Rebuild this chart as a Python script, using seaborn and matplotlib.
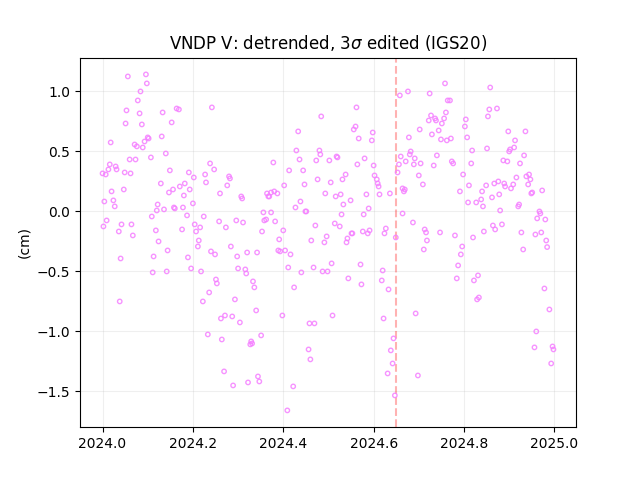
# vndp_v_residuals.py
# Detrended V component for VNDP, 3 sigma edited

import numpy as np
import pandas as pd
import matplotlib
matplotlib.use("Agg")
import matplotlib.pyplot as plt
import seaborn as sns

# fraction of 2024 for each epoch
year_frac = [
    .056, .096, .098, .084, .078, .053, .082, .051, .087, .133, .164, .169, .242, .153, .131, .100, .102, .093,
    .018, .071, .076, .089, .140, .107, .060, .073, .016, .029, .013, .031, .000, .007, .049, .062, .149, .191,
    .202, .238, .247, .227, .229, .280, .282, .276, .260, .307, .309, .129, .171, .182, .193, .156, .147, .180,
    .020, .047, .004, .024, .027, .122, .120, .136, .158, .160, .178, .200, .187, .224, .109, .009, .002, .042,
    .064, .036, .067, .118, .124, .176, .204, .216, .207, .213, .211, .258, .273, .296, .311, .284,
    .040, .113, .144, .189, .111, .142, .196, .218, .240, .249, .298, .320, .342, .300, .316, .318, .333, .336,
    .251, .253, .236, .222, .293, .038, .340, .271, .262, .287, .304, .233, .264, .329, .331, .327, .269, .289, .322,
    .562, .484, .433, .556, .560, .598, .567, .596, .429, .480, .482, .473, .436, .378, .518, .520, .502, .580,
    .564, .600, .653, .413, .444, .538, .531, .602, .607, .609, .611, .476, .505, .402, .447, .364, .367, .369,
    .373, .380, .387, .493, .516, .527, .584, .613, .636, .438, .427, .533, .549, .589, .449, .451, .356, .373,
    .529, .578, .358, .362, .382, .471, .514, .525, .400, .353, .627, .624, .551, .553, .576, .587, .591, .649,
    .391, .496, .542, .462, .491, .540,
    .389, .393, .404, .416, .411, .440, .467, .487, .498, .507, .571, .620, .618, .544, .573, .424, .633, .398,
    .509, .458, .469, .622, .351, .644, .456, .638, .460, .642, .631, .344, .347, .422, .647, .409,
    .658, .660, .656, .664,
    .676, .724, .758, .858, .764, .769, .856, .873, .760, .727, .736, .722, .738, .756, .751, .804, .802, .853,
    .702, .744, .729, .898, .936, .678, .749, .762, .771, .807, .913, .911, .902, .900, .851, .818, .682, .680,
    .691, .740, .933, .887, .896, .773, .776, .816, .924, .671, .689, .704, .733, .798, .700, .916, .938, .944,
    .947, .709, .811, .849, .867, .876, .889, .891, .909, .904, .942, .791, .840, .973, .664, .669, .667, .878,
    .862, .838, .827, .809, .842, .920, .922, .949, .951, .880, .967, .969, .962, .980, .687, .864, .869, .884,
    .844, .713, .716, .747, .780, .820, .927, .958, .971, .718, .982, .796, .984,
    .711, .793, .931, .787, .831, .784, .822, .978, .833, .829, .693, .989, .960, .956, .996, .998, .993, .698,
]

# V residual in cm, same order
v_cm = [
    1.125, 1.142, 1.067, 1.000, .925, .842, .817, .733, .725, .825, .858, .850, .867, .742, .625, .617, .608, .583,
    .575, .558, .542, .533, .483, .450, .433, .433, .392, .375, .350, .350, .317, .308, .325, .317, .342, .325,
    .283, .400, .350, .308, .242, .292, .275, .217, .150, .125, .108, .233, .208, .233, .183, .183, .158, .133,
    .167, .183, .083, .092, .042, .058, .008, .017, .033, .025, .033, .067, -.033, -.042, -.042, -.075, -.125, -.108,
    -.108, -.167, -.200, -.158, -.250, -.150, -.108, -.133, -.167, -.242, -.292, -.083, -.133, -.075, -.092, -.292,
    -.392, -.375, -.325, -.383, -.508, -.500, -.475, -.500, -.333, -.358, -.375, -.342, -.342, -.475, -.483, -.517, -.583, -.633,
    -.567, -.600, -.675, -.750, -.733, -.750, -.825, -.867, -.892, -.875, -.925, -1.025, -1.067, -1.083, -1.100, -1.108, -1.333, -1.450, -1.425,
    .867, .792, .667, .683, .708, .658, .608, .592, .508, .508, .475, .425, .433, .408, .458, .450, .425, .442,
    .392, .383, .325, .342, .342, .308, .267, .300, .267, .233, .208, .267, .242, .217, .225, .150, .125, .125,
    .158, .167, .150, .150, .125, .142, .142, .142, .150, .083, .033, .058, .092, .025, .000, .000, -.008, -.008,
    -.025, -.025, -.075, -.067, -.083, -.117, -.100, -.125, -.158, -.167, -.142, -.183, -.183, -.183, -.167, -.183, -.158, -.217,
    -.233, -.208, -.225, -.242, -.258, -.258,
    -.325, -.333, -.325, -.358, -.467, -.508, -.467, -.500, -.500, -.433, -.442, -.492, -.575, -.558, -.608, -.633, -.650, -.867,
    -.867, -.933, -.933, -.892, -1.033, -1.058, -1.150, -1.158, -1.233, -1.267, -1.350, -1.375, -1.417, -1.458, -1.533, -1.658,
    .967, .458, .392, -.017,
    1.000, .983, 1.067, 1.033, .925, .925, .850, .858, .825, .800, .775, .758, .758, .775, .733, .767, .708, .792,
    .683, .675, .642, .667, .667, .617, .600, .592, .608, .617, .592, .533, .517, .500, .525, .508, .500, .475,
    .442, .467, .467, .425, .417, .417, .400, .400, .400, .417, .392, .400, .383, .308, .300, .283, .292, .308,
    .267, .225, .217, .217, .233, .250, .233, .208, .225, .192, .225, .167, .167, .175, .192, .183, .167, .142,
    .117, .100, .075, .075, .042, .042, .058, .150, .158, .008, .000, -.017, -.058, -.067, -.092, -.117, -.150, -.108,
    -.167, -.150, -.175, -.175, -.200, -.217, -.175, -.192, -.175, -.242, -.242, -.292, -.297,
    -.317, -.358, -.317, -.450, -.533, -.558, -.575, -.642, -.717, -.733, -.850, -.817, -1.000, -1.133, -1.125, -1.150, -1.267, -1.367,
]

base_year = 2024
event_year = 2024.65

df = pd.DataFrame({"year": base_year + np.array(year_frac), "v": v_cm})

fig, ax = plt.subplots(figsize=(6.4, 4.8), dpi=100)

# open rings in a pale magenta
sns.scatterplot(data=df, x="year", y="v", ax=ax, s=10, color="none",
                edgecolor=(0.96, 0.5, 1.0, 0.85), linewidth=1.0, zorder=3)
ax.axvline(event_year, color="red", linestyle="--", linewidth=1.5, alpha=0.3)

ax.grid(True, alpha=0.2)
ax.set_title(r"VNDP V: detrended, 3$\sigma$ edited (IGS20)")
ax.set_xlabel("")
ax.set_ylabel("(cm)")

fig.savefig("out.png", dpi=100)
